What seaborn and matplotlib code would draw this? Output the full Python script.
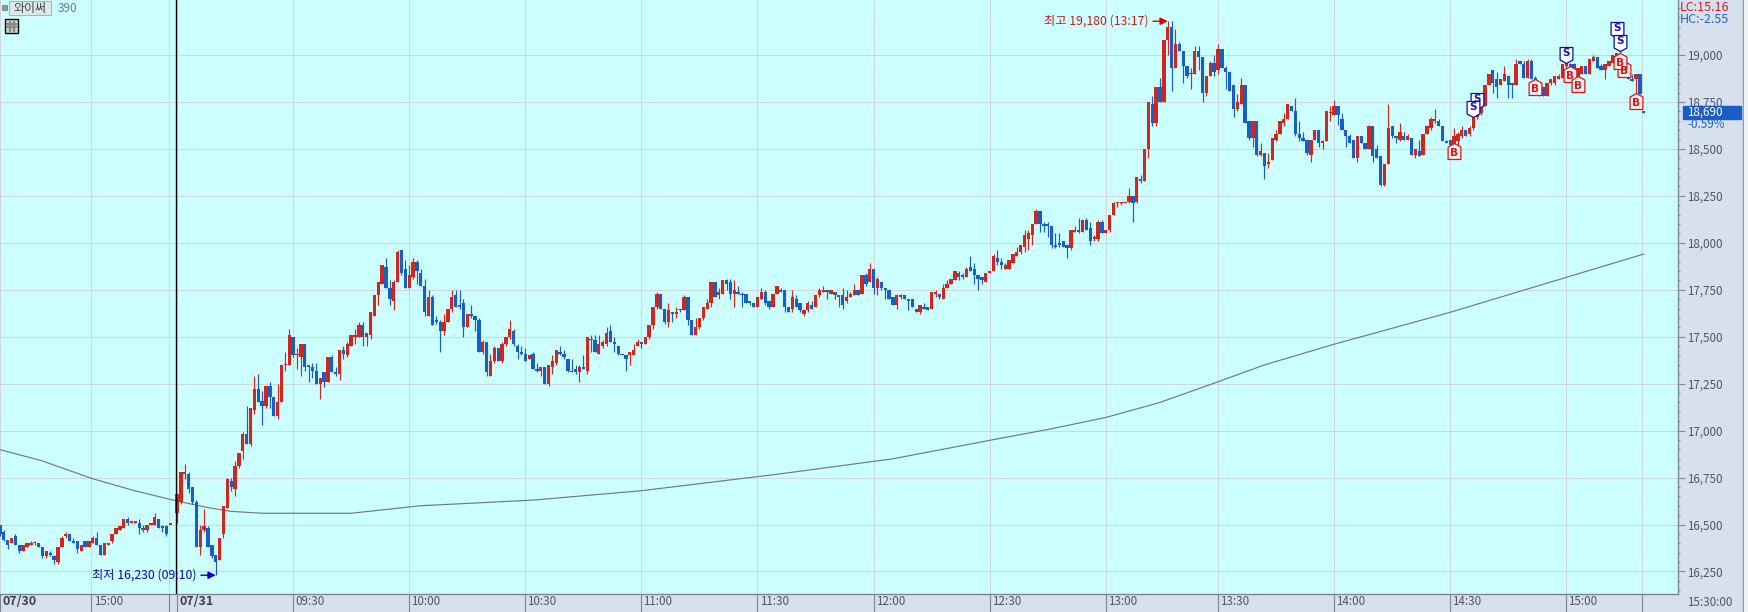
import matplotlib.pyplot as plt
import seaborn as sns
import numpy as np
import pandas as pd
from matplotlib.path import Path
from matplotlib.patches import Rectangle
from matplotlib.ticker import MultipleLocator
from matplotlib.transforms import ScaledTranslation

# 07/30 : fin de seance (la derniere ligne est le tiret de cloture)
opens_prev = [16500,16460,16420,16400,16440,16390,16360,16380,16390,16400,
              16400,16380,16330,16350,16330,16300,16380,16440,16450,16410,
              16410,16360,16410,16380,16400,16430,16390,16340,16390,16410,
              16450,16470,16480,16530,16510,16510,16510,16480,16470,16500,
              16500,16530,16490,16490,16500]
highs_prev = [16500,16470,16420,16430,16450,16390,16390,16400,16410,16410,
              16400,16380,16360,16360,16340,16380,16440,16460,16450,16430,
              16410,16390,16410,16410,16440,16460,16390,16400,16400,16450,
              16480,16490,16530,16540,16520,16520,16530,16500,16500,16510,
              16560,16530,16500,16500,16500]
lows_prev = [16440,16410,16370,16400,16390,16350,16360,16380,16390,16390,
             16380,16320,16320,16330,16290,16290,16380,16430,16410,16400,
             16350,16360,16380,16380,16400,16390,16340,16340,16390,16400,
             16450,16470,16480,16500,16510,16510,16450,16460,16460,16500,
             16500,16480,16460,16440,16500]
closes_prev = [16450,16420,16390,16430,16390,16360,16390,16400,16400,16400,
               16380,16330,16360,16340,16310,16380,16430,16450,16410,16400,
               16370,16390,16380,16410,16430,16390,16340,16400,16400,16450,
               16480,16490,16530,16510,16520,16520,16480,16470,16500,16510,
               16540,16480,16480,16450,16500]

# 07/31 : une bougie par minute
opens = [16560,16620,16770,16770,16700,16620,16380,16470,16480,16390,
         16340,16310,16450,16590,16730,16690,16810,16890,16980,16930,
         17110,17220,17160,17130,17240,17180,17080,17150,17350,17350,
         17500,17400,17390,17460,17350,17340,17320,17250,17310,17260,
         17390,17310,17300,17430,17400,17450,17500,17500,17560,17500,
         17510,17610,17720,17780,17870,17760,17690,17790,17960,17860,
         17760,17820,17900,17840,17770,17610,17710,17590,17580,17530,
         17580,17650,17720,17670,17680,17550,17620,17610,17590,17420,
         17470,17290,17370,17440,17370,17460,17500,17530,17450,17420,
         17410,17380,17410,17330,17320,17340,17250,17340,17360,17420,
         17410,17380,17320,17330,17310,17340,17320,17490,17480,17410,
         17450,17460,17530,17470,17450,17410,17400,17400,17400,17450,
         17470,17460,17500,17560,17660,17730,17650,17580,17630,17620,
         17650,17640,17710,17590,17510,17550,17600,17650,17680,17790,
         17720,17730,17800,17790,17730,17740,17730,17730,17690,17680,
         17660,17700,17740,17690,17660,17730,17750,17750,17660,17650,
         17700,17680,17620,17640,17670,17660,17720,17740,17750,17730,
         17740,17710,17720,17690,17710,17720,17750,17730,17830,17790,
         17860,17760,17790,17760,17750,17710,17670,17710,17720,17700,
         17700,17650,17630,17660,17660,17650,17730,17730,17700,17760,
         17780,17800,17840,17830,17820,17870,17860,17830,17820,17790,
         17840,17850,17920,17900,17860,17860,17890,17930,17950,17980,
         18020,18040,18100,18170,18100,18100,18090,17990,18000,18010,
         17990,17970,18060,18070,18060,18120,18080,18020,18020,18110,
         18050,18070,18150,18210,18210,18210,18220,18250,18220,18340,
         18330,18500,18740,18640,18830,18750,19080,19150,18930,19060,
         19020,18940,18900,18900,19020,18990,18800,18890,18960,18920,
         19030,18930,18910,18840,18710,18740,18840,18650,18560,18650,
         18470,18480,18420,18440,18550,18580,18640,18660,18730,18700,
         18580,18560,18550,18470,18550,18600,18530,18540,18690,18680,
         18730,18660,18600,18570,18550,18450,18570,18530,18500,18620,
         18500,18460,18310,18420,18620,18570,18550,18570,18550,18560,
         18470,18490,18470,18580,18610,18650,18650,18620,18540,18550,
         18520,18540,18570,18600,18580,18610,18670,18690,18730,18840,
         18920,18870,18840,18860,18890,18850,18840,18970,18950,18880,
         18970,18880,18830,18830,18780,18850,18850,18870,18880,18940,
         18950,18950,18880,18900,18940,18900,18970,18990,18940,18920,
         18940,18960,18950,19000,18930,18940,18870,18870,18900,18700]
highs = [16660,16780,16820,16780,16700,16630,16500,16580,16490,16390,
         16340,16430,16600,16750,16750,16840,16880,16990,17130,17120,
         17290,17300,17210,17240,17260,17180,17250,17350,17420,17540,
         17500,17440,17460,17460,17350,17360,17360,17280,17310,17390,
         17400,17340,17430,17450,17470,17510,17540,17580,17580,17520,
         17630,17720,17790,17880,17920,17800,17800,17960,17960,17910,
         17880,17920,17910,17860,17810,17750,17720,17610,17590,17620,
         17650,17750,17750,17750,17700,17620,17670,17610,17600,17480,
         17470,17410,17450,17440,17470,17500,17590,17540,17460,17450,
         17440,17400,17420,17360,17340,17340,17350,17400,17430,17450,
         17430,17380,17380,17350,17350,17400,17500,17510,17510,17510,
         17480,17550,17560,17500,17450,17410,17400,17420,17460,17490,
         17470,17500,17560,17660,17740,17730,17650,17680,17630,17660,
         17650,17720,17710,17590,17600,17600,17660,17700,17790,17790,
         17760,17800,17810,17810,17800,17770,17740,17730,17690,17680,
         17710,17760,17750,17690,17730,17770,17760,17750,17660,17750,
         17720,17680,17650,17690,17690,17720,17760,17770,17750,17750,
         17740,17720,17760,17750,17740,17780,17750,17830,17840,17890,
         17860,17820,17790,17760,17750,17710,17720,17730,17720,17700,
         17700,17650,17670,17680,17660,17740,17750,17730,17780,17800,
         17810,17850,17850,17840,17870,17930,17890,17830,17820,17840,
         17850,17940,17960,17920,17890,17910,17940,17980,17990,18070,
         18070,18100,18180,18170,18110,18110,18090,18050,18050,18010,
         17990,18070,18090,18130,18120,18130,18110,18040,18120,18120,
         18070,18150,18220,18220,18220,18220,18290,18250,18350,18360,
         18500,18750,18780,18830,18880,19080,19180,19180,19140,19070,
         19020,18940,18930,19050,19050,18990,18890,18970,19000,19060,
         19030,18940,18910,18840,18790,18880,18840,18650,18650,18650,
         18530,18480,18480,18560,18600,18650,18690,18740,18730,18770,
         18650,18590,18550,18550,18600,18600,18550,18700,18730,18760,
         18730,18690,18600,18580,18550,18570,18570,18530,18630,18620,
         18520,18460,18420,18740,18620,18570,18640,18590,18580,18560,
         18500,18550,18580,18630,18670,18710,18660,18620,18550,18550,
         18610,18590,18620,18600,18620,18670,18690,18740,18840,18900,
         18920,18910,18870,18940,18890,18850,18980,18970,18970,18980,
         18980,18890,18830,18830,18850,18870,18890,18900,18950,18960,
         18960,18960,18930,18940,18940,18980,19000,18990,18950,18950,
         18970,19000,19010,19020,18990,18950,18900,18900,18900,18700]
lows = [16510,16610,16740,16670,16610,16380,16340,16460,16380,16320,
        16230,16310,16430,16590,16680,16650,16800,16850,16930,16920,
        17090,17150,17030,17120,17120,17080,17060,17150,17320,17350,
        17390,17330,17290,17320,17260,17280,17250,17170,17230,17260,
        17310,17290,17270,17380,17390,17450,17460,17500,17450,17450,
        17490,17610,17670,17780,17760,17670,17640,17790,17830,17760,
        17760,17810,17780,17770,17610,17610,17560,17570,17420,17510,
        17580,17630,17660,17650,17500,17550,17600,17530,17420,17410,
        17290,17290,17360,17370,17360,17450,17490,17450,17380,17400,
        17370,17380,17330,17310,17290,17250,17240,17300,17350,17400,
        17380,17310,17310,17300,17260,17330,17300,17420,17420,17410,
        17440,17450,17470,17420,17400,17400,17320,17350,17400,17450,
        17440,17460,17490,17540,17650,17650,17570,17550,17580,17600,
        17630,17640,17560,17510,17510,17540,17590,17650,17660,17710,
        17700,17730,17750,17700,17660,17730,17660,17680,17670,17660,
        17660,17700,17670,17650,17660,17730,17740,17630,17630,17630,
        17660,17630,17610,17630,17650,17660,17710,17740,17700,17730,
        17700,17660,17650,17680,17710,17720,17720,17730,17770,17790,
        17730,17720,17750,17700,17700,17670,17650,17700,17700,17640,
        17660,17630,17620,17650,17640,17650,17710,17700,17700,17760,
        17780,17800,17800,17810,17820,17850,17780,17750,17780,17790,
        17840,17850,17880,17860,17860,17860,17890,17930,17940,17950,
        17960,17990,18100,18060,18060,18030,17970,17970,17980,17980,
        17920,17960,18060,18050,18060,18070,17990,18010,18010,18050,
        18050,18060,18150,18190,18200,18210,18210,18110,18210,18320,
        18330,18450,18620,18620,18750,18750,19000,18810,18930,19020,
        18850,18880,18820,18900,18920,18750,18780,18890,18890,18900,
        18930,18820,18810,18670,18700,18740,18640,18550,18510,18460,
        18460,18340,18400,18440,18540,18580,18620,18660,18700,18570,
        18540,18540,18470,18430,18550,18510,18500,18540,18650,18680,
        18630,18600,18510,18530,18450,18430,18530,18500,18500,18430,
        18450,18300,18300,18420,18560,18530,18540,18550,18550,18470,
        18450,18460,18470,18580,18600,18640,18620,18540,18530,18510,
        18510,18520,18560,18570,18570,18600,18660,18680,18730,18840,
        18800,18770,18840,18860,18770,18770,18840,18950,18880,18880,
        18870,18800,18780,18780,18780,18840,18840,18870,18880,18930,
        18880,18880,18870,18900,18900,18900,18970,18930,18920,18870,
        18940,18960,18950,18950,18920,18870,18860,18800,18790,18690]
closes = [16660,16780,16780,16690,16620,16380,16470,16490,16380,16330,
          16300,16430,16600,16740,16700,16810,16880,16980,16930,17120,
          17220,17150,17130,17240,17180,17080,17150,17350,17350,17510,
          17400,17400,17460,17340,17340,17320,17250,17280,17260,17390,
          17310,17300,17430,17410,17460,17510,17510,17560,17500,17520,
          17630,17720,17790,17880,17760,17700,17790,17950,17840,17760,
          17830,17900,17850,17770,17630,17710,17560,17580,17530,17580,
          17650,17710,17660,17660,17550,17620,17610,17590,17420,17470,
          17310,17370,17440,17370,17460,17500,17540,17460,17420,17410,
          17370,17400,17330,17320,17340,17250,17350,17370,17430,17410,
          17390,17320,17310,17310,17340,17330,17500,17480,17420,17460,
          17470,17520,17470,17460,17410,17400,17380,17420,17430,17470,
          17460,17500,17560,17660,17730,17650,17580,17640,17620,17630,
          17640,17710,17590,17510,17550,17600,17660,17680,17790,17710,
          17740,17800,17780,17730,17750,17730,17720,17680,17680,17660,
          17710,17740,17680,17660,17730,17770,17740,17660,17630,17710,
          17660,17640,17640,17680,17650,17720,17750,17750,17740,17750,
          17720,17720,17670,17710,17730,17750,17720,17830,17780,17860,
          17760,17810,17760,17750,17700,17670,17720,17720,17700,17690,
          17660,17630,17670,17650,17640,17740,17730,17710,17760,17780,
          17810,17850,17820,17820,17860,17850,17830,17810,17800,17840,
          17850,17930,17900,17880,17880,17910,17940,17950,17990,18040,
          18050,18100,18170,18100,18090,18090,17990,17980,17990,17980,
          17970,18070,18070,18060,18120,18070,18010,18030,18110,18050,
          18070,18150,18210,18210,18210,18220,18250,18210,18350,18330,
          18500,18750,18640,18830,18750,19080,19150,18930,19060,19020,
          18940,18890,18900,19020,18990,18800,18890,18960,18910,19030,
          18930,18910,18810,18710,18750,18840,18640,18560,18650,18470,
          18490,18410,18430,18560,18580,18650,18660,18740,18700,18580,
          18560,18540,18480,18550,18600,18530,18540,18700,18690,18730,
          18680,18600,18570,18530,18450,18570,18530,18500,18620,18460,
          18450,18310,18420,18610,18570,18560,18590,18550,18570,18470,
          18500,18460,18580,18620,18660,18660,18620,18540,18530,18520,
          18570,18580,18600,18570,18610,18670,18690,18730,18840,18900,
          18850,18830,18870,18900,18840,18840,18950,18950,18880,18970,
          18870,18850,18800,18780,18850,18870,18890,18890,18950,18960,
          18880,18900,18930,18940,18900,18980,18990,18930,18920,18950,
          18970,19000,19010,18960,18970,18870,18860,18900,18790,18690]

# moyenne mobile 390
ma_slots = [-46,-35,-22,-11,0,8,14,22,45,63,92,120,156,185,213,226,240,254,269,281,299,329,358,379]
ma_prices = [16900,16840,16745,16680,16625,16590,16570,16560,16560,16600,16630,16680,16770,
             16850,16960,17010,17070,17150,17260,17350,17460,17630,17810,17940]

# signaux d'achat / vente
buy_slots = [330,351,360,362,374,373,377]
buy_prices = [18530,18870,18940,18890,18970,19010,18800]
sell_slots = [336,335,359,372,373]
sell_prices = [18710,18670,18960,19090,19020]

# axes
price_ticks = list(range(16250, 19001, 250))
time_ticks = [-45.74,-22.1,-2.1,0,30,60,90,120,150,180,210,240,269,299,329,359,378.5]
time_labels = ['07/30','15:00','','07/31','09:30','10:00','10:30','11:00','11:30',
               '12:00','12:30','13:00','13:30','14:00','14:30','15:00','']

UP = '#d2261c'
DOWN = '#1a5ec4'
BG = '#ccffff'
PANEL = '#d6e0ee'
GRID = '#d0d6da'
EDGE = '#80868c'
TXT = '#50565c'
W, H = 1748, 612

sns.set_theme(style='white')
plt.rcParams['font.family'] = ['Noto Sans CJK KR', 'DejaVu Sans']

fig = plt.figure(figsize=(W / 100, H / 100), dpi=100, facecolor=PANEL)
ax = fig.add_axes([0, 18 / H, 1678 / W, 594 / H], facecolor=BG)


def fx(px):
    return px / W


def fy(py):
    return 1 - py / H


# position des bougies : la seance precedente est un peu decalee
slots = np.arange(-len(opens_prev), len(opens), dtype=float)
slots[slots < 0] -= 0.76
candles = pd.DataFrame({'slot': slots,
                        'open': opens_prev + opens,
                        'high': highs_prev + highs,
                        'low': lows_prev + lows,
                        'close': closes_prev + closes})
colors = [UP if c >= o else DOWN for o, c in zip(candles['open'], candles['close'])]
body_low = candles[['open', 'close']].min(axis=1)
body_size = (candles['close'] - candles['open']).abs().clip(lower=6)

ax.vlines(candles['slot'], candles['low'], candles['high'], colors=colors, linewidth=0.85, zorder=3)
ax.bar(candles['slot'], body_size, bottom=body_low, width=0.86, color=colors, linewidth=0, zorder=3)

ma = pd.DataFrame({'slot': ma_slots, 'price': ma_prices})
sns.lineplot(data=ma, x='slot', y='price', ax=ax, color='#6e7c7c', linewidth=0.85, legend=False, zorder=2.8)

ax.axvline(-0.18, color='black', linewidth=1, zorder=3.5)

ax.set_xlim(-45.74, 387.86)
ax.set_ylim(16130, 19293)
ax.set_xlabel('')
ax.set_ylabel('')

ax.yaxis.tick_right()
ax.set_yticks(price_ticks)
ax.set_yticklabels([f'{p:,}' for p in price_ticks])
ax.yaxis.set_minor_locator(MultipleLocator(50))
ax.tick_params(axis='y', which='major', length=5, width=0.8, color=EDGE, labelcolor=TXT, labelsize=8.4, pad=1.5, right=True)
ax.tick_params(axis='y', which='minor', length=1.6, width=0.8, color=EDGE, right=True)

ax.set_xticks(time_ticks)
ax.set_xticklabels(time_labels)
ax.tick_params(axis='x', length=13, width=0.8, color=EDGE, labelcolor=TXT, labelsize=8.4, pad=-12.5, bottom=True)
shift = ScaledTranslation(1.5 / 72, 0, fig.dpi_scale_trans)
for lab in ax.get_xticklabels():
    lab.set_ha('left')
    lab.set_transform(lab.get_transform() + shift)
    if lab.get_text().startswith('07/'):
        lab.set_fontweight('bold')
        lab.set_fontsize(9)
        lab.set_color('#3c4248')

ax.grid(True, axis='both', color=GRID, linewidth=0.75)
ax.set_axisbelow(True)
for name, sp in ax.spines.items():
    sp.set_visible(name in ('right', 'bottom'))
    sp.set_color(EDGE)
    sp.set_linewidth(1)

# repere plus haut / plus bas
ax.annotate('최고 19,180 (13:17)', xy=(256, 19180), xytext=(-14, 0), textcoords='offset points',
            ha='right', va='center', color='#c81e1e', fontsize=8.8, zorder=6,
            arrowprops=dict(arrowstyle='-|>', color='#e00000', lw=1, mutation_scale=11, shrinkA=1, shrinkB=0))
ax.annotate('최저 16,230 (09:10)', xy=(10, 16230), xytext=(-14, 0), textcoords='offset points',
            ha='right', va='center', color='#0a0ab4', fontsize=8.8, zorder=6,
            arrowprops=dict(arrowstyle='-|>', color='#0000d0', lw=1, mutation_scale=11, shrinkA=1, shrinkB=0))

# pentagones S / B, pointe sur le prix du signal
sell_path = Path([(0, 0), (0.4, 0.22), (0.4, 1), (-0.4, 1), (-0.4, 0.22), (0, 0)], closed=True)
buy_path = Path([(0, 0), (0.4, -0.22), (0.4, -1), (-0.4, -1), (-0.4, -0.22), (0, 0)], closed=True)
ax.scatter(sell_slots, sell_prices, marker=sell_path, s=529, facecolor='white', edgecolor='#0a0aa8', linewidth=0.9, zorder=4)
for sx, sy in zip(sell_slots, sell_prices):
    ax.annotate('S', xy=(sx, sy), xytext=(0, 7.2), textcoords='offset points', ha='center', va='center',
                color='#1515b8', fontsize=7.5, fontweight='bold', family='DejaVu Sans', zorder=4.5)
for bx, by in zip(buy_slots, buy_prices):
    ax.scatter([bx], [by], marker=buy_path, s=529, facecolor='#fff4f0', edgecolor='#d8141c', linewidth=0.9, zorder=5)
    ax.annotate('B', xy=(bx, by), xytext=(0, -7.2), textcoords='offset points', ha='center', va='center',
                color='#d8141c', fontsize=7.5, fontweight='bold', family='DejaVu Sans', zorder=5.5)

# panneau de droite
fig.add_artist(Rectangle((fx(1743), 0), 1.2 / W, 1, transform=fig.transFigure, color=EDGE, zorder=5))
fig.add_artist(Rectangle((fx(1744), 0), 4 / W, 1, transform=fig.transFigure, color='#eef2f6', zorder=5))
fig.text(fx(1680), fy(7.5), 'LC:15.16', color='#d02020', fontsize=9, va='center', ha='left')
fig.text(fx(1680), fy(19.5), 'HC:-2.55', color='#2a62c0', fontsize=9, va='center', ha='left')
fig.add_artist(Rectangle((fx(1683), fy(118.7)), 58 / W, 12.7 / H, transform=fig.transFigure, color='#1a5ec4', zorder=5))
fig.text(fx(1687), fy(112.5), '18,690', color='white', fontsize=8.4, va='center', ha='left', zorder=6)
fig.text(fx(1687), fy(125), '-0.59%', color='#2a62c0', fontsize=8.4, va='center', ha='left', zorder=6)
fig.text(fx(1687), fy(603), '15:30:00', color=TXT, fontsize=8.4, va='center', ha='left')

# coin haut gauche
fig.add_artist(Rectangle((fx(2), fy(10)), 4.7 / W, 4.7 / H, transform=fig.transFigure, facecolor='#8c989e', edgecolor='#70787c', lw=0.5))
fig.add_artist(Rectangle((fx(9.3), fy(15.3)), 41.4 / W, 14 / H, transform=fig.transFigure, facecolor='#e0e8e8', edgecolor='#aab4b4', lw=0.8))
fig.text(fx(30), fy(8.3), '와이써', color='#3c4246', fontsize=8.6, va='center', ha='center', zorder=6)
fig.text(fx(58), fy(8.3), '390', color='#6c7880', fontsize=8.4, va='center', ha='left', zorder=6)
fig.add_artist(Rectangle((fx(4.5), fy(32.5)), 13 / W, 13 / H, transform=fig.transFigure, facecolor='#d8d8d0', edgecolor='black', lw=1))
for k in (9, 13):
    fig.add_artist(Rectangle((fx(k), fy(31)), 0.8 / W, 10 / H, transform=fig.transFigure, color='#8a8a84', zorder=6))
for k in (23.5, 27):
    fig.add_artist(Rectangle((fx(6), fy(k)), 10 / W, 0.8 / H, transform=fig.transFigure, color='#8a8a84', zorder=6))

fig.savefig('out.png', dpi=100)
plt.close(fig)
